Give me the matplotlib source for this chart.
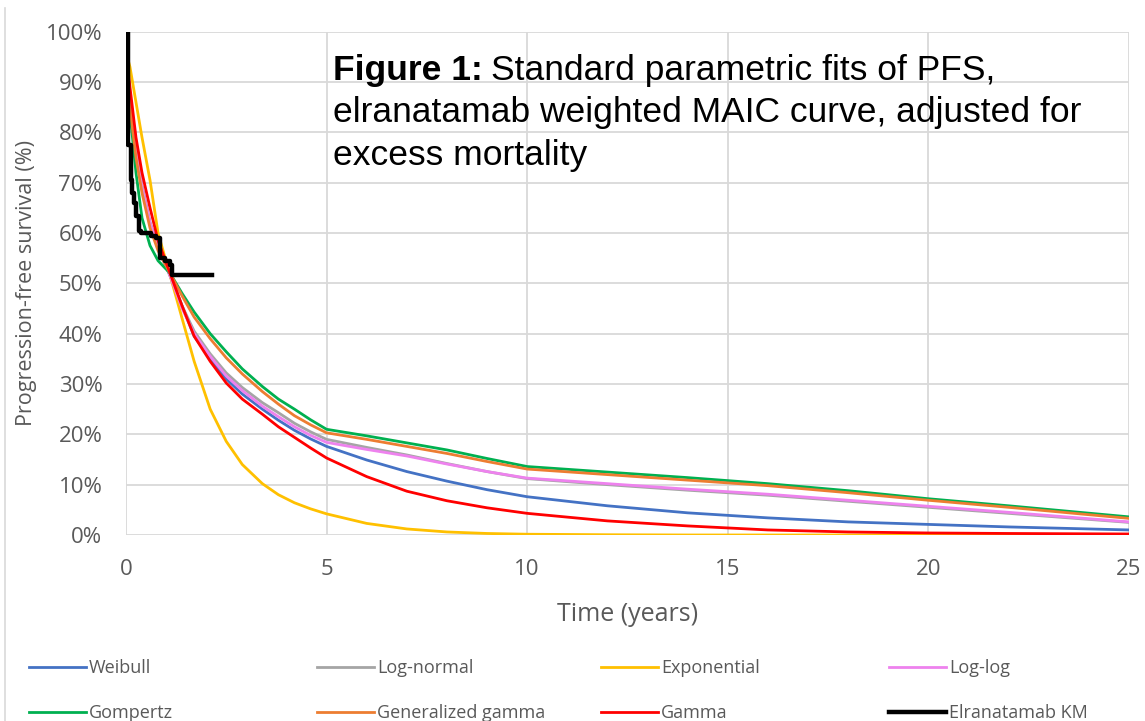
import matplotlib
matplotlib.use('Agg')
import matplotlib.pyplot as plt
from matplotlib.lines import Line2D
from matplotlib.ticker import PercentFormatter

plt.rcParams['font.family'] = ['Open Sans', 'DejaVu Sans']

# time grid (years) shared by the parametric fits
t = [0, 0.1, 0.25, 0.4, 0.6, 0.8, 1.1, 1.4, 1.7, 2.1, 2.5, 2.9, 3.4, 3.8, 4.2, 4.6, 5,
     6, 7, 8, 9, 10, 12, 14, 16, 18, 20, 22, 25]

weibull = [99, 86, 77, 69, 62, 57, 51.5, 45.5, 39.5, 35, 31, 28, 25, 22.8, 20.8, 19.1, 17.6,
           14.9, 12.6, 10.7, 9.0, 7.6, 5.8, 4.4, 3.4, 2.6, 2.1, 1.6, 1.0]
lognormal = [100, 86, 77, 69.5, 62, 57, 51.5, 45.5, 40.5, 36, 32.2, 29.3, 26.3, 24.3, 22.2, 20.5, 19,
             17.4, 15.9, 14.2, 12.6, 11.2, 10.0, 8.9, 7.9, 6.7, 5.5, 4.3, 2.5]
exponential = [96, 93, 86, 79, 70.5, 60, 51.6, 43, 34.5, 25, 18.6, 14, 10.2, 8, 6.4, 5.2, 4.2,
               2.3, 1.2, 0.6, 0.3, 0.15, 0.05, 0, 0, 0, 0, 0, 0]
loglog = [99, 85, 76, 69, 62, 57, 51.5, 45, 40, 35.5, 31.6, 28.7, 25.6, 23.5, 21.5, 19.8, 18.4,
          17.0, 15.7, 14.1, 12.6, 11.3, 10.2, 9.1, 8.1, 6.9, 5.7, 4.5, 2.6]
gompertz = [100, 84, 72, 63, 57.5, 54.5, 52, 48, 44.3, 40, 36.4, 33, 29.5, 27, 25, 22.9, 21,
            19.7, 18.3, 16.9, 15.2, 13.6, 12.5, 11.4, 10.2, 8.8, 7.2, 5.8, 3.6]
gengamma = [99, 85, 75, 68, 61, 56.5, 52, 47.5, 43.3, 39, 35.2, 32, 28.5, 26, 23.7, 21.9, 20.3,
            19.0, 17.6, 16.2, 14.6, 13.1, 12.0, 10.9, 9.8, 8.4, 6.9, 5.5, 3.3]
gamma = [96, 89, 79, 72, 65, 58.5, 52, 45.5, 39.5, 34.5, 30.2, 27, 24, 21.5, 19.4, 17.3, 15.3,
         11.6, 8.7, 6.8, 5.4, 4.3, 2.8, 1.8, 1.0, 0.6, 0.4, 0.3, 0.2]

# Kaplan-Meier steps
km_t = [0, 0.04, 0.12, 0.16, 0.2, 0.25, 0.32, 0.38, 0.62, 0.75, 0.85, 0.97, 1.1, 1.14, 2.14]
km_s = [100, 77.5, 70.6, 68, 66, 63.4, 60.5, 60, 59.5, 59, 55, 54.5, 53.6, 51.6, 51.6]

series = [
    ('Weibull', weibull, '#4472C4'),
    ('Log-normal', lognormal, '#A5A5A5'),
    ('Exponential', exponential, '#FFC000'),
    ('Log-log', loglog, '#EE82EE'),
    ('Gompertz', gompertz, '#00B050'),
    ('Generalized gamma', gengamma, '#ED7D31'),
    ('Gamma', gamma, '#FF0000'),
]

fig = plt.figure(figsize=(11.45, 7.21), dpi=100)
ax = fig.add_axes([0.110, 0.258, 0.876, 0.698])

handles = {}
for name, vals, col in series:
    ln, = ax.plot(t, vals, color=col, lw=2.0, label=name)
    handles[name] = ln
km, = ax.plot(km_t, km_s, color='black', lw=3.2, drawstyle='steps-post', label='Elranatamab KM')
handles['Elranatamab KM'] = km

ax.set_xlim(0, 25)
ax.set_ylim(0, 100)
ax.set_xticks([0, 5, 10, 15, 20, 25])
ax.set_yticks(range(0, 101, 10))
ax.yaxis.set_major_formatter(PercentFormatter(decimals=0))
ax.grid(True, color='#d9d9d9', lw=1.3)
ax.set_axisbelow(True)
for s in ax.spines.values():
    s.set_visible(False)
ax.tick_params(length=0, labelsize=16, labelcolor='#595959', pad=17)
ax.set_xlabel('Time (years)', fontsize=18, color='#595959', labelpad=16)
ax.set_ylabel('Progression-free survival (%)', fontsize=15.5, color='#595959', labelpad=6)

# title inside the plot area
tfont = dict(fontsize=25.5, family='Liberation Sans', va='baseline')
bold = fig.text(333 / 1145, 1 - 80 / 721, 'Figure 1:', fontweight='bold', **tfont)
fig.canvas.draw()
bx = bold.get_window_extent().x1 / fig.bbox.width
fig.text(bx + 8 / 1145, 1 - 80 / 721, 'Standard parametric fits of PFS,', **tfont)
fig.text(333 / 1145, 1 - 122 / 721, 'elranatamab weighted MAIC curve, adjusted for', **tfont)
fig.text(333 / 1145, 1 - 165 / 721, 'excess mortality', **tfont)

# legend: four columns of two entries
cols = [('Weibull', 'Gompertz'), ('Log-normal', 'Generalized gamma'),
        ('Exponential', 'Gamma'), ('Log-log', 'Elranatamab KM')]
col_x = [22, 310, 594, 882]
for (a, b), x in zip(cols, col_x):
    fig.legend([handles[a], handles[b]], [a, b], loc='upper left',
               bbox_to_anchor=(x / 1145, 1 - 652 / 721), frameon=False,
               fontsize=13, labelcolor='#595959', handlelength=3.15,
               handletextpad=0.15, labelspacing=1.5, borderaxespad=0)

# chart area border on the left
fig.add_artist(Line2D([5 / 1145, 5 / 1145], [0, 1 - 8 / 721], color='#d9d9d9', lw=1.2))

fig.savefig('out.png', dpi=100)
